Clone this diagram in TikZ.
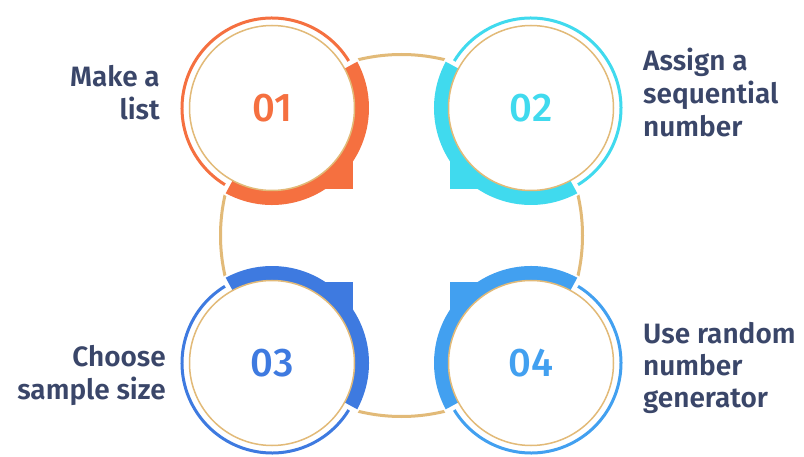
\documentclass[tikz,border=0pt]{standalone}
\usepackage{fontspec}
\setmainfont{Fira Sans}
\newfontfamily\labelfont{Fira Sans SemiBold}
\newfontfamily\numfont{Fira Sans Medium}
\usetikzlibrary{calc}
\definecolor{cOrange}{HTML}{F57040}
\definecolor{cCyan}{HTML}{40DAEE}
\definecolor{cBlue}{HTML}{3E7AE0}
\definecolor{cSky}{HTML}{42A0F0}
\definecolor{cTan}{HTML}{E2BA78}
\definecolor{cText}{HTML}{3A4669}
\tikzset{
  lbl/.style={font=\labelfont\fontsize{28pt}{33pt}\selectfont, text=cText, inner sep=0pt},
  numtxt/.style={font=\numfont\fontsize{40pt}{42pt}\selectfont, inner sep=0pt},
}
% #1 centre coordinate name, #2 tail angle, #3 colour, #4 number, #5 node name
\newcommand{\ringunit}[5]{%
  \fill[white] (#1) circle[radius=99pt];
  \fill[#3] ($(#1)+(#2-73.5:97pt)$) arc[start angle=#2-73.5, end angle=#2+73.5, radius=97pt]
     -- ($(#1)+(#2+73.5:78pt)$) arc[start angle=#2+73.5, end angle=#2-73.5, radius=78pt] -- cycle;
  \fill[#3] (#1) rectangle ($(#1)+(#2:114.5pt)$);
  \draw[#3, line width=3pt] ($(#1)+(#2+76.5:90pt)$) arc[start angle=#2+76.5, end angle=#2+283.5, radius=90pt];
  \draw[cTan, line width=1.5pt, fill=white] (#1) circle[radius=82.5pt];
  \node[numtxt, text=#3] (#5) at (#1) {#4};
}
\begin{document}
\begin{tikzpicture}[x=1pt,y=1pt]
\useasboundingbox (0,0) rectangle (804,456);
\fill[white] (0,0) rectangle (804,456);
\coordinate (O) at (401.5,220.5);
\coordinate (c1) at (272,348);
\coordinate (c2) at (531,348);
\coordinate (c3) at (272,93);
\coordinate (c4) at (531,93);
\draw[cTan, line width=3pt] (O) circle[radius=181pt];
\ringunit{c1}{-45}{cOrange}{01}{n1}
\ringunit{c2}{225}{cCyan}{02}{n2}
\ringunit{c3}{45}{cBlue}{03}{n3}
\ringunit{c4}{135}{cSky}{04}{n4}
% labels
\node[lbl, anchor=base east] (l1a) at (160,369) {Make a};
\node[lbl, anchor=base east] (l1b) at (160,336) {list};
\node[lbl, anchor=base west] (l2a) at (643,385) {Assign a};
\node[lbl, anchor=base west] (l2b) at (643,352) {sequential};
\node[lbl, anchor=base west] (l2c) at (643,319) {number};
\node[lbl, anchor=base east] (l3a) at (166,90) {Choose};
\node[lbl, anchor=base east] (l3b) at (166,57) {sample size};
\node[lbl, anchor=base west] (l4a) at (643,113) {Use random};
\node[lbl, anchor=base west] (l4b) at (643,81) {number};
\node[lbl, anchor=base west] (l4c) at (643,49) {generator};
\end{tikzpicture}
\end{document}
